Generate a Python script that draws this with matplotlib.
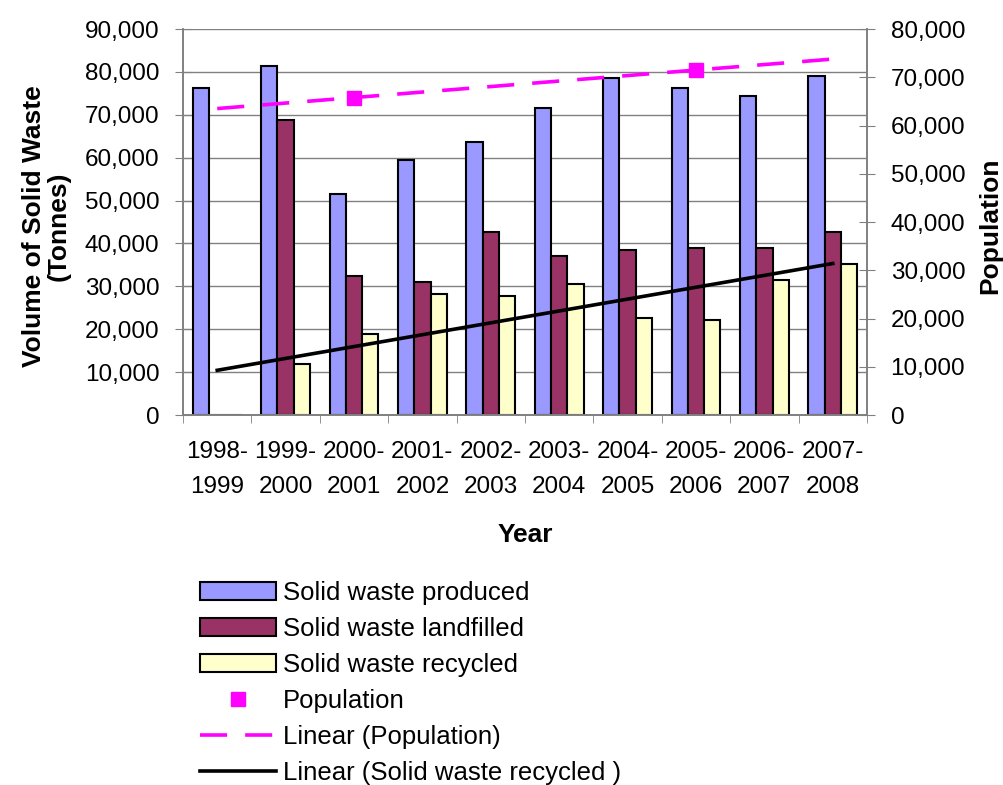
import numpy as np
import matplotlib.pyplot as plt
from matplotlib.ticker import FuncFormatter, MultipleLocator

plt.rcParams['font.family'] = ['Liberation Sans', 'DejaVu Sans']

years = ['1998-\n1999', '1999-\n2000', '2000-\n2001', '2001-\n2002', '2002-\n2003',
         '2003-\n2004', '2004-\n2005', '2005-\n2006', '2006-\n2007', '2007-\n2008']
produced = [76200, 81400, 51500, 59500, 63700, 71600, 78600, 76200, 74400, 79000]
landfilled = [0, 68800, 32400, 31100, 42700, 37100, 38500, 38900, 38900, 42700]
recycled = [0, 11900, 18900, 28200, 27800, 30500, 22600, 22200, 31500, 35200]
population = [np.nan, np.nan, 65800, np.nan, np.nan, np.nan, np.nan, 71500, np.nan, np.nan]

x = np.arange(len(years))
w = 0.238

fig = plt.figure(figsize=(10.04, 7.85), dpi=100)
ax = fig.add_axes([0.1823, 0.4713, 0.6812, 0.4917])
ax2 = ax.twinx()

ax.bar(x - w, produced, w, color='#9999FF', edgecolor='black', lw=1.5,
       label='Solid waste produced', zorder=2)
ax.bar(x, landfilled, w, color='#993366', edgecolor='black', lw=1.5,
       label='Solid waste landfilled', zorder=2)
ax.bar(x + w, recycled, w, color='#FFFFCC', edgecolor='black', lw=1.5,
       label='Solid waste recycled', zorder=2)

# trend lines
rc = np.polyfit(x, recycled, 1)
ax.plot(x, np.polyval(rc, x), color='black', lw=2.6, zorder=3,
        label='Linear (Solid waste recycled )')

pop = np.array(population)
ok = ~np.isnan(pop)
pc = np.polyfit(x[ok], pop[ok], 1)
ax2.plot(x, pop, 's', color='#FF00FF', ms=10.5, ls='none', label='Population')
ax2.plot(x, np.polyval(pc, x), color='#FF00FF', lw=2.6, dashes=(7.5, 5),
         label='Linear (Population)')

fmt = FuncFormatter(lambda v, p: f'{v:,.0f}')
ax.set_ylim(0, 90000)
ax.yaxis.set_major_locator(MultipleLocator(10000))
ax.yaxis.set_major_formatter(fmt)
ax2.set_ylim(0, 80000)
ax2.yaxis.set_major_locator(MultipleLocator(10000))
ax2.yaxis.set_major_formatter(fmt)

ax.set_xlim(-0.5, len(years) - 0.5)
ax.set_xticks(x)
ax.set_xticklabels(years)
for t in ax.get_xticklabels():
    t.set_linespacing(1.75)
ax.set_xticks(np.arange(-0.5, len(years)), minor=True)
ax.tick_params(axis='x', which='major', length=0, pad=19)
ax.tick_params(axis='x', which='minor', length=6, direction='out', color='#808080')
ax.tick_params(axis='y', direction='inout', length=12, color='#808080', pad=11)
ax2.tick_params(axis='y', direction='inout', length=12, color='#808080', pad=11)
ax.tick_params(labelsize=17.5)
ax2.tick_params(labelsize=17.5)

ax.grid(axis='y', color='#808080', lw=1)
ax.set_axisbelow(True)
for a in (ax, ax2):
    a.spines['top'].set_visible(False)
    for s in ('left', 'right', 'bottom'):
        a.spines[s].set_color('#808080')
        a.spines[s].set_linewidth(1.2)

ax.set_ylabel('Volume of Solid Waste\n(Tonnes)', fontsize=19, fontweight='bold',
              linespacing=1.05)
ax.yaxis.set_label_coords(-0.164, 0.49)
ax2.set_ylabel('Population', fontsize=19, fontweight='bold')
ax2.yaxis.set_label_coords(1.163, 0.49)
ax.set_xlabel('Year', fontsize=19, fontweight='bold')
ax.xaxis.set_label_coords(0.5, -0.28)

h1, l1 = ax.get_legend_handles_labels()
h2, l2 = ax2.get_legend_handles_labels()
handles = [h1[1], h1[2], h1[3], h2[0], h2[1], h1[0]]
labels = [l1[1], l1[2], l1[3], l2[0], l2[1], l1[0]]
fig.legend(handles, labels, loc='upper left', bbox_to_anchor=(0.199, 0.26),
           frameon=False, fontsize=18.5, handlelength=2.95, handletextpad=0.28,
           labelspacing=0.47, borderaxespad=0, borderpad=0)

fig.savefig('out.png', dpi=100)
